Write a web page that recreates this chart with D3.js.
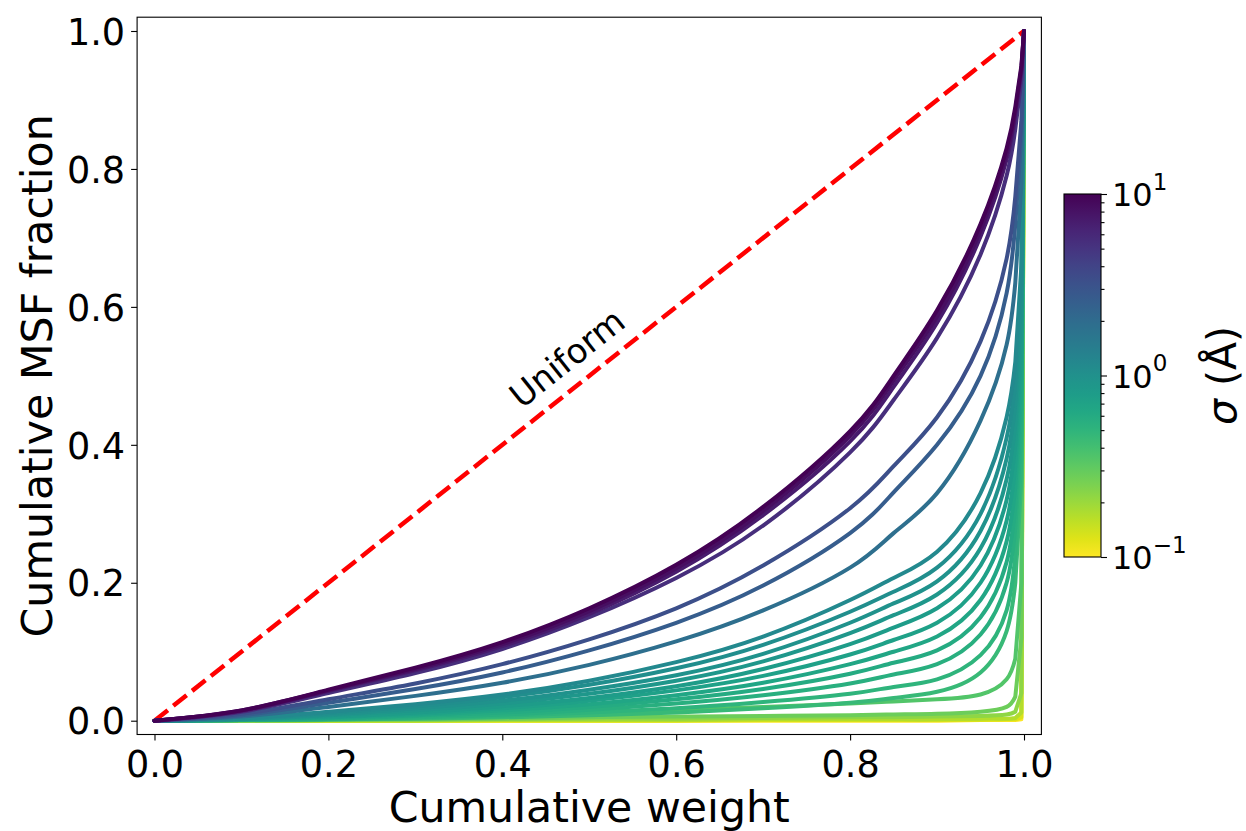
<!DOCTYPE html>
<html>
<head>
<meta charset="utf-8">
<script src="https://cdn.jsdelivr.net/npm/d3@7"></script>
<style>
body { margin: 0; background: #fff; }
text { font-family: "DejaVu Sans", sans-serif; fill: #000; }
</style>
</head>
<body>
<div id="chart"></div>
<script>
// x positions shared by every curve
const xGrid = [0, 0.1, 0.2, 0.3, 0.4, 0.5, 0.6, 0.7, 0.8, 0.85, 0.9, 0.95, 0.98, 0.99, 0.997, 1];

// cumulative MSF fraction per sigma
const s0_10 = [0, 0, 0, 0, 0, 0, 0, 0, 0, 0, 0, 0.001, 0.001, 0.001, 0.002, 1];
const s0_13 = [0, 0, 0, 0, 0, 0, 0, 0.001, 0.001, 0.001, 0.001, 0.001, 0.002, 0.002, 0.005, 1];
const s0_17 = [0, 0, 0, 0, 0.001, 0.001, 0.001, 0.002, 0.002, 0.002, 0.002, 0.003, 0.003, 0.004, 0.012, 1];
const s0_22 = [0, 0, 0.001, 0.001, 0.002, 0.003, 0.003, 0.004, 0.005, 0.005, 0.006, 0.007, 0.009, 0.013, 0.04, 1];
const s0_28 = [0, 0, 0.001, 0.002, 0.003, 0.005, 0.006, 0.007, 0.008, 0.009, 0.01, 0.013, 0.02, 0.035, 0.12, 1];
const s0_35 = [0, 0.001, 0.003, 0.005, 0.008, 0.012, 0.016, 0.02, 0.025, 0.028, 0.031, 0.038, 0.06, 0.09, 0.2, 1];
const s0_45 = [0, 0.001, 0.002, 0.003, 0.005, 0.008, 0.012, 0.018, 0.026, 0.033, 0.042, 0.07, 0.13, 0.2, 0.35, 1];
const s0_50 = [0, 0.001, 0.002, 0.004, 0.007, 0.012, 0.018, 0.027, 0.039, 0.049, 0.06, 0.095, 0.16, 0.24, 0.38, 1];
const s0_55 = [0, 0.001, 0.002, 0.005, 0.009, 0.016, 0.025, 0.037, 0.054, 0.067, 0.082, 0.125, 0.2, 0.28, 0.42, 1];
const s0_60 = [0, 0.001, 0.003, 0.007, 0.012, 0.02, 0.031, 0.046, 0.068, 0.084, 0.102, 0.15, 0.23, 0.31, 0.45, 1];
const s0_66 = [0, 0.001, 0.004, 0.008, 0.015, 0.024, 0.037, 0.055, 0.082, 0.1, 0.122, 0.175, 0.26, 0.34, 0.48, 1];
const s0_73 = [0, 0.002, 0.005, 0.01, 0.018, 0.029, 0.044, 0.065, 0.096, 0.117, 0.142, 0.2, 0.29, 0.37, 0.51, 1];
const s0_80 = [0, 0.002, 0.006, 0.012, 0.021, 0.033, 0.05, 0.075, 0.111, 0.135, 0.163, 0.225, 0.32, 0.4, 0.54, 1];
const s0_87 = [0, 0.002, 0.008, 0.015, 0.025, 0.039, 0.058, 0.086, 0.127, 0.153, 0.183, 0.25, 0.35, 0.43, 0.57, 1];
const s0_95 = [0, 0.003, 0.009, 0.018, 0.029, 0.045, 0.066, 0.097, 0.142, 0.17, 0.202, 0.275, 0.38, 0.46, 0.6, 1];
const s1_05 = [0, 0.003, 0.011, 0.021, 0.034, 0.052, 0.076, 0.11, 0.158, 0.187, 0.222, 0.3, 0.41, 0.49, 0.63, 1];
const s1_15 = [0, 0.004, 0.013, 0.024, 0.038, 0.058, 0.085, 0.122, 0.175, 0.207, 0.245, 0.33, 0.44, 0.52, 0.66, 1];
const s1_9 = [0, 0.006, 0.02, 0.036, 0.055, 0.081, 0.115, 0.16, 0.222, 0.272, 0.33, 0.435, 0.545, 0.635, 0.78, 1];
const s2_6 = [0, 0.008, 0.026, 0.046, 0.07, 0.102, 0.142, 0.196, 0.272, 0.331, 0.4, 0.5, 0.62, 0.72, 0.85, 1];
const s3_3 = [0, 0.01, 0.031, 0.054, 0.082, 0.118, 0.163, 0.225, 0.308, 0.369, 0.44, 0.55, 0.67, 0.76, 0.87, 1];
const s5_5 = [0, 0.013, 0.04, 0.069, 0.104, 0.15, 0.207, 0.283, 0.389, 0.465, 0.555, 0.676, 0.79, 0.858, 0.93, 1];
const s7_2 = [0, 0.014, 0.043, 0.073, 0.108, 0.155, 0.216, 0.298, 0.405, 0.484, 0.577, 0.702, 0.814, 0.878, 0.942, 1];
const s8_5 = [0, 0.015, 0.044, 0.075, 0.111, 0.159, 0.221, 0.304, 0.413, 0.493, 0.586, 0.711, 0.822, 0.884, 0.946, 1];
const s10 = [0, 0.015, 0.045, 0.077, 0.114, 0.163, 0.226, 0.31, 0.42, 0.5, 0.595, 0.72, 0.83, 0.89, 0.95, 1];

const sigmas = [0.1, 0.13, 0.17, 0.22, 0.28, 0.35, 0.45, 0.5, 0.55, 0.6, 0.66, 0.73, 0.8, 0.87, 0.95, 1.05, 1.15, 1.9, 2.6, 3.3, 5.5, 7.2, 8.5, 10];
const seriesValues = [s0_10, s0_13, s0_17, s0_22, s0_28, s0_35, s0_45, s0_50, s0_55, s0_60, s0_66, s0_73, s0_80, s0_87, s0_95, s1_05, s1_15, s1_9, s2_6, s3_3, s5_5, s7_2, s8_5, s10];

const axisTicks = [0, 0.2, 0.4, 0.6, 0.8, 1.0];
const cbarMajor = [0.1, 1, 10];
const cbarMajorLabels = [["10", "\u22121"], ["10", "0"], ["10", "1"]];
const cbarMinor = [0.2, 0.3, 0.4, 0.5, 0.6, 0.7, 0.8, 0.9, 2, 3, 4, 5, 6, 7, 8, 9];

const width = 1246;
const height = 831;
const plot = { left: 137.1, right: 1041.4, top: 17.2, bottom: 734.5 };
const cbar = { left: 1064, right: 1101, top: 194, bottom: 557 };

const svg = d3.select('#chart').append('svg').attr('width', width).attr('height', height);

const x = d3.scaleLinear().domain([-0.02, 1.02]).range([plot.left, plot.right]);
const y = d3.scaleLinear().domain([-0.02, 1.02]).range([plot.bottom, plot.top]);

// log colour scale, reversed viridis
const cLog = d3.scaleLog().domain([0.1, 10]).range([1, 0]);
const color = s => d3.interpolateViridis(cLog(s));

const series = sigmas.map((s, i) => ({
    sigma: s,
    points: xGrid.map((xv, j) => [xv, seriesValues[i][j]])
}));

svg.append('clipPath').attr('id', 'clip')
    .append('rect')
    .attr('x', plot.left).attr('y', plot.top)
    .attr('width', plot.right - plot.left).attr('height', plot.bottom - plot.top);

const g = svg.append('g').attr('clip-path', 'url(#clip)');

// uniform reference line
g.append('line')
    .attr('x1', x(0)).attr('y1', y(0))
    .attr('x2', x(1)).attr('y2', y(1))
    .attr('stroke', '#ff0000')
    .attr('stroke-width', 4.5)
    .attr('stroke-dasharray', '17,7');

// smooth body, straight steps for the last jump at x -> 1
const smooth = d3.line()
    .x(d => x(d[0]))
    .y(d => y(d[1]))
    .curve(d3.curveNatural);
const straight = d3.line()
    .x(d => x(d[0]))
    .y(d => y(d[1]));
const split = xGrid.indexOf(0.99);

g.selectAll('.curve')
    .data(series)
    .join('path')
    .attr('class', 'curve')
    .attr('d', d => smooth(d.points.slice(0, split + 1)) + straight(d.points.slice(split)))
    .attr('fill', 'none')
    .attr('stroke', d => color(d.sigma))
    .attr('stroke-width', 4)
    .attr('stroke-linejoin', 'round')
    .attr('stroke-linecap', 'round');

// label on the dashed line
const angle = Math.atan2(y(0) - y(1), x(1) - x(0)) * 180 / Math.PI;
svg.append('text')
    .attr('transform', `translate(567,358) rotate(${-angle})`)
    .attr('text-anchor', 'middle')
    .attr('dominant-baseline', 'central')
    .style('font-size', '34px')
    .text('Uniform');

// axes
const xAxis = svg.append('g')
    .attr('transform', `translate(0,${plot.bottom})`)
    .call(d3.axisBottom(x).tickValues(axisTicks).tickFormat(d3.format('.1f')).tickSize(6).tickSizeOuter(0));
xAxis.selectAll('text').attr('y', 42.5).attr('dy', 0).style('font-size', '36.6px');

const yAxis = svg.append('g')
    .attr('transform', `translate(${plot.left},0)`)
    .call(d3.axisLeft(y).tickValues(axisTicks).tickFormat(d3.format('.1f')).tickSize(6).tickPadding(6).tickSizeOuter(0));
yAxis.selectAll('text').attr('dy', '0.36em').style('font-size', '36.6px');

svg.selectAll('.domain').remove();
svg.selectAll('.tick line').attr('stroke', '#000').attr('stroke-width', 1.1);

// frame
svg.append('rect')
    .attr('x', plot.left).attr('y', plot.top)
    .attr('width', plot.right - plot.left).attr('height', plot.bottom - plot.top)
    .attr('fill', 'none').attr('stroke', '#000').attr('stroke-width', 1.1);

svg.append('text')
    .attr('x', (x(0) + x(1)) / 2).attr('y', 822)
    .attr('text-anchor', 'middle')
    .style('font-size', '42.7px')
    .text('Cumulative weight');

svg.append('text')
    .attr('transform', `translate(52,${(y(0) + y(1)) / 2}) rotate(-90)`)
    .attr('text-anchor', 'middle')
    .style('font-size', '42.7px')
    .text('Cumulative MSF fraction');

// colorbar
const cy = d3.scaleLog().domain([0.1, 10]).range([cbar.bottom, cbar.top]);
const grad = svg.append('defs').append('linearGradient')
    .attr('id', 'cbar-grad')
    .attr('x1', 0).attr('y1', 1).attr('x2', 0).attr('y2', 0);
d3.range(0, 1.0001, 0.05).forEach(t => {
    grad.append('stop').attr('offset', t).attr('stop-color', d3.interpolateViridis(1 - t));
});
svg.append('rect')
    .attr('x', cbar.left).attr('y', cbar.top)
    .attr('width', cbar.right - cbar.left).attr('height', cbar.bottom - cbar.top)
    .attr('fill', 'url(#cbar-grad)')
    .attr('stroke', '#000').attr('stroke-width', 1.1);

const cMinor = svg.append('g')
    .attr('transform', `translate(${cbar.right},0)`)
    .call(d3.axisRight(cy).tickValues(cbarMinor).tickFormat('').tickSize(3.5).tickSizeOuter(0));
const cMajor = svg.append('g')
    .attr('transform', `translate(${cbar.right},0)`)
    .call(d3.axisRight(cy).tickValues(cbarMajor).tickFormat('').tickSize(6).tickSizeOuter(0));
cMinor.select('.domain').remove();
cMajor.select('.domain').remove();
svg.selectAll('.tick line').attr('stroke', '#000').attr('stroke-width', 1.1);

cbarMajor.forEach((v, i) => {
    const t = svg.append('text')
        .attr('x', cbar.right + 11)
        .attr('y', cy(v))
        .attr('dy', '0.38em')
        .style('font-size', '32px');
    t.append('tspan').text(cbarMajorLabels[i][0]);
    t.append('tspan').attr('dy', '-0.72em').style('font-size', '23px').text(cbarMajorLabels[i][1]);
});

const cl = svg.append('text')
    .attr('transform', `translate(1236,${(cbar.top + cbar.bottom) / 2}) rotate(-90)`)
    .attr('text-anchor', 'middle')
    .style('font-size', '41px');
cl.append('tspan').style('font-style', 'italic').text('\u03c3');
cl.append('tspan').text(' (\u00c5)');
</script>
</body>
</html>
